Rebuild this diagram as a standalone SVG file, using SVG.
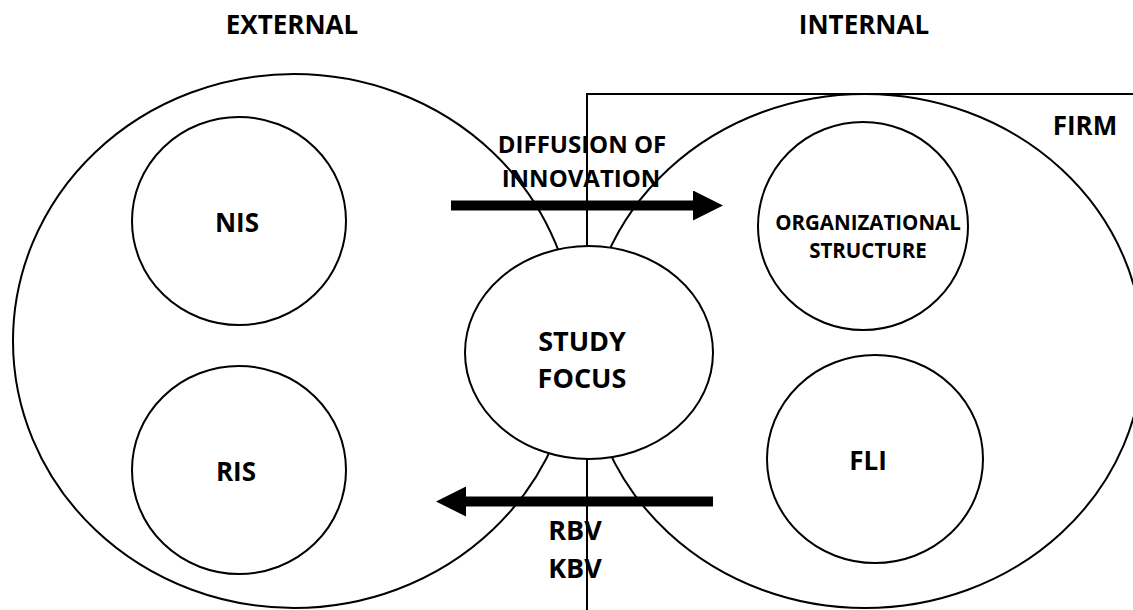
<svg xmlns="http://www.w3.org/2000/svg" width="1133" height="610" viewBox="0 0 1133 610">
<style>
.shape{fill:none;stroke:#000;stroke-width:2}
.node{fill:#fff;stroke:#000;stroke-width:2}
.lbl{font-family:"Open Sans","Liberation Sans",sans-serif;font-weight:bold;fill:#000;text-anchor:middle}
.arrow{stroke:#000;stroke-width:10;fill:none}
</style>
<defs>
<marker id="head" markerUnits="userSpaceOnUse" markerWidth="32" markerHeight="32" refX="0" refY="15" orient="auto">
<path d="M0,0 L30,15 L0,30 Z" fill="#000"/>
</marker>
</defs>
<rect width="1133" height="610" fill="#fff"/>
<text class="lbl" x="292" y="34" font-size="26">EXTERNAL</text>
<text class="lbl" x="864" y="34" font-size="26">INTERNAL</text>
<g id="external">
<ellipse class="shape" cx="294" cy="341" rx="281" ry="267"/>
</g>
<g id="firm">
<ellipse class="shape" cx="865" cy="351" rx="278" ry="257"/>
<rect class="shape" x="587" y="94" width="560" height="530"/>
<text class="lbl" x="1085" y="135" font-size="26">FIRM</text>
</g>
<g id="nis">
<ellipse class="node" cx="239" cy="221" rx="107" ry="104"/>
<text class="lbl" x="237" y="232" font-size="26">NIS</text>
</g>
<g id="ris">
<ellipse class="node" cx="239" cy="470" rx="107" ry="104"/>
<text class="lbl" x="236" y="481" font-size="26">RIS</text>
</g>
<g id="org">
<ellipse class="node" cx="863" cy="226" rx="105" ry="104"/>
<text class="lbl" x="868" y="230" font-size="20.5">ORGANIZATIONAL</text>
<text class="lbl" x="868" y="258" font-size="20.5">STRUCTURE</text>
</g>
<g id="fli">
<ellipse class="node" cx="875" cy="459" rx="108" ry="104"/>
<text class="lbl" x="868" y="470" font-size="26">FLI</text>
</g>
<g id="study">
<ellipse class="node" cx="589" cy="352.5" rx="124" ry="106.5"/>
<text class="lbl" x="582" y="351" font-size="27">STUDY</text>
<text class="lbl" x="582" y="388" font-size="27">FOCUS</text>
</g>
<g id="connectors">
<line class="arrow" x1="451" y1="205.5" x2="693" y2="205.5" marker-end="url(#head)"/>
<line class="arrow" x1="713" y1="501.5" x2="466" y2="501.5" marker-end="url(#head)"/>
<text class="lbl" x="582" y="153" font-size="24">DIFFUSION OF</text>
<text class="lbl" x="581" y="187" font-size="24">INNOVATION</text>
<text class="lbl" x="575" y="540" font-size="27">RBV</text>
<text class="lbl" x="575" y="578" font-size="27">KBV</text>
</g>
</svg>
